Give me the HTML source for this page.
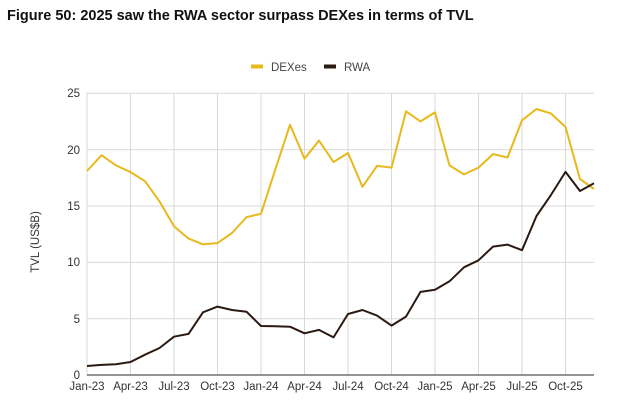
<!DOCTYPE html>
<html><head><meta charset="utf-8"><style>
html,body{margin:0;padding:0;background:#fff;width:626px;height:415px;overflow:hidden}
text{font-family:"Liberation Sans",Arial,sans-serif}
</style></head><body>
<svg width="626" height="415" viewBox="0 0 626 415" xmlns="http://www.w3.org/2000/svg">
<text x="7" y="20" font-size="14.5" font-weight="bold" fill="#111">Figure 50: 2025 saw the RWA sector surpass DEXes in terms of TVL</text>
<rect x="251" y="64.5" width="12" height="4" fill="#E8B81C"/>
<text x="271" y="71" font-size="11.5" fill="#444">DEXes</text>
<rect x="324" y="64.5" width="12" height="4" fill="#2B1A12"/>
<text x="344" y="71" font-size="11.5" fill="#444">RWA</text>
<g stroke="#d9d9d9" stroke-width="1">
<line x1="87" y1="93.3" x2="594" y2="93.3"/>
<line x1="87" y1="149.7" x2="594" y2="149.7"/>
<line x1="87" y1="206" x2="594" y2="206"/>
<line x1="87" y1="262.4" x2="594" y2="262.4"/>
<line x1="87" y1="318.7" x2="594" y2="318.7"/>
<line x1="87" y1="93" x2="87" y2="375"/>
<line x1="130.5" y1="93" x2="130.5" y2="375"/>
<line x1="174" y1="93" x2="174" y2="375"/>
<line x1="217.5" y1="93" x2="217.5" y2="375"/>
<line x1="261" y1="93" x2="261" y2="375"/>
<line x1="304.5" y1="93" x2="304.5" y2="375"/>
<line x1="348" y1="93" x2="348" y2="375"/>
<line x1="391.5" y1="93" x2="391.5" y2="375"/>
<line x1="435" y1="93" x2="435" y2="375"/>
<line x1="478.5" y1="93" x2="478.5" y2="375"/>
<line x1="522" y1="93" x2="522" y2="375"/>
<line x1="565.5" y1="93" x2="565.5" y2="375"/>
</g>
<line x1="87" y1="375" x2="594" y2="375" stroke="#555" stroke-width="1.2"/>
<g font-size="11.5" fill="#333" text-anchor="end">
<text x="80" y="97">25</text><text x="80" y="154">20</text><text x="80" y="210">15</text>
<text x="80" y="266">10</text><text x="80" y="323">5</text><text x="80" y="379">0</text>
</g>
<g font-size="11.5" fill="#333" text-anchor="middle">
<text x="87" y="390">Jan-23</text><text x="130.5" y="390">Apr-23</text><text x="174" y="390">Jul-23</text>
<text x="217.5" y="390">Oct-23</text><text x="261" y="390">Jan-24</text><text x="304.5" y="390">Apr-24</text>
<text x="348" y="390">Jul-24</text><text x="391.5" y="390">Oct-24</text><text x="435" y="390">Jan-25</text>
<text x="478.5" y="390">Apr-25</text><text x="522" y="390">Jul-25</text><text x="565.5" y="390">Oct-25</text>
</g>
<text transform="translate(39,242) rotate(-90)" font-size="11.5" fill="#333" text-anchor="middle">TVL (US$B)</text>
<polyline fill="none" stroke="#E8B81C" stroke-width="2" stroke-linejoin="round" points="
87,171 101.5,155.2 116,165.4 130.5,172.1 145,181.2 159.5,201.4 174,226.2 188.5,238.6 203,244.3 217.5,243.1 232,233 246.5,217.2 261,213.8 275.5,168.8 290,124.8 304.5,158.6 319,140.6 333.5,162 348,153 362.5,186.8 377,165.9 391.5,167.6 406,111.3 420.5,121.4 435,112.4 449.5,165.4 464,174.4 478.5,167.6 493,154.1 507.5,157.5 522,120.3 536.5,109 551,113.5 565.5,127 580,179 594,189"/>
<polyline fill="none" stroke="#2B1A12" stroke-width="2" stroke-linejoin="round" points="
87,366 101.5,364.9 116,364.3 130.5,362 145,354.7 159.5,348 174,336.7 188.5,333.9 203,312.3 217.5,306.6 232,310 246.5,311.7 261,326 275.5,326.3 290,326.7 304.5,333.3 319,329.9 333.5,337.4 348,314 362.5,310 377,315.6 391.5,325.6 406,316.6 420.5,291.9 435,289.7 449.5,281.3 464,267.3 478.5,260.3 493,246.6 507.5,244.6 522,250.2 536.5,216 551,194.9 565.5,171.9 580,191 594,183.3"/>
</svg>
</body></html>
